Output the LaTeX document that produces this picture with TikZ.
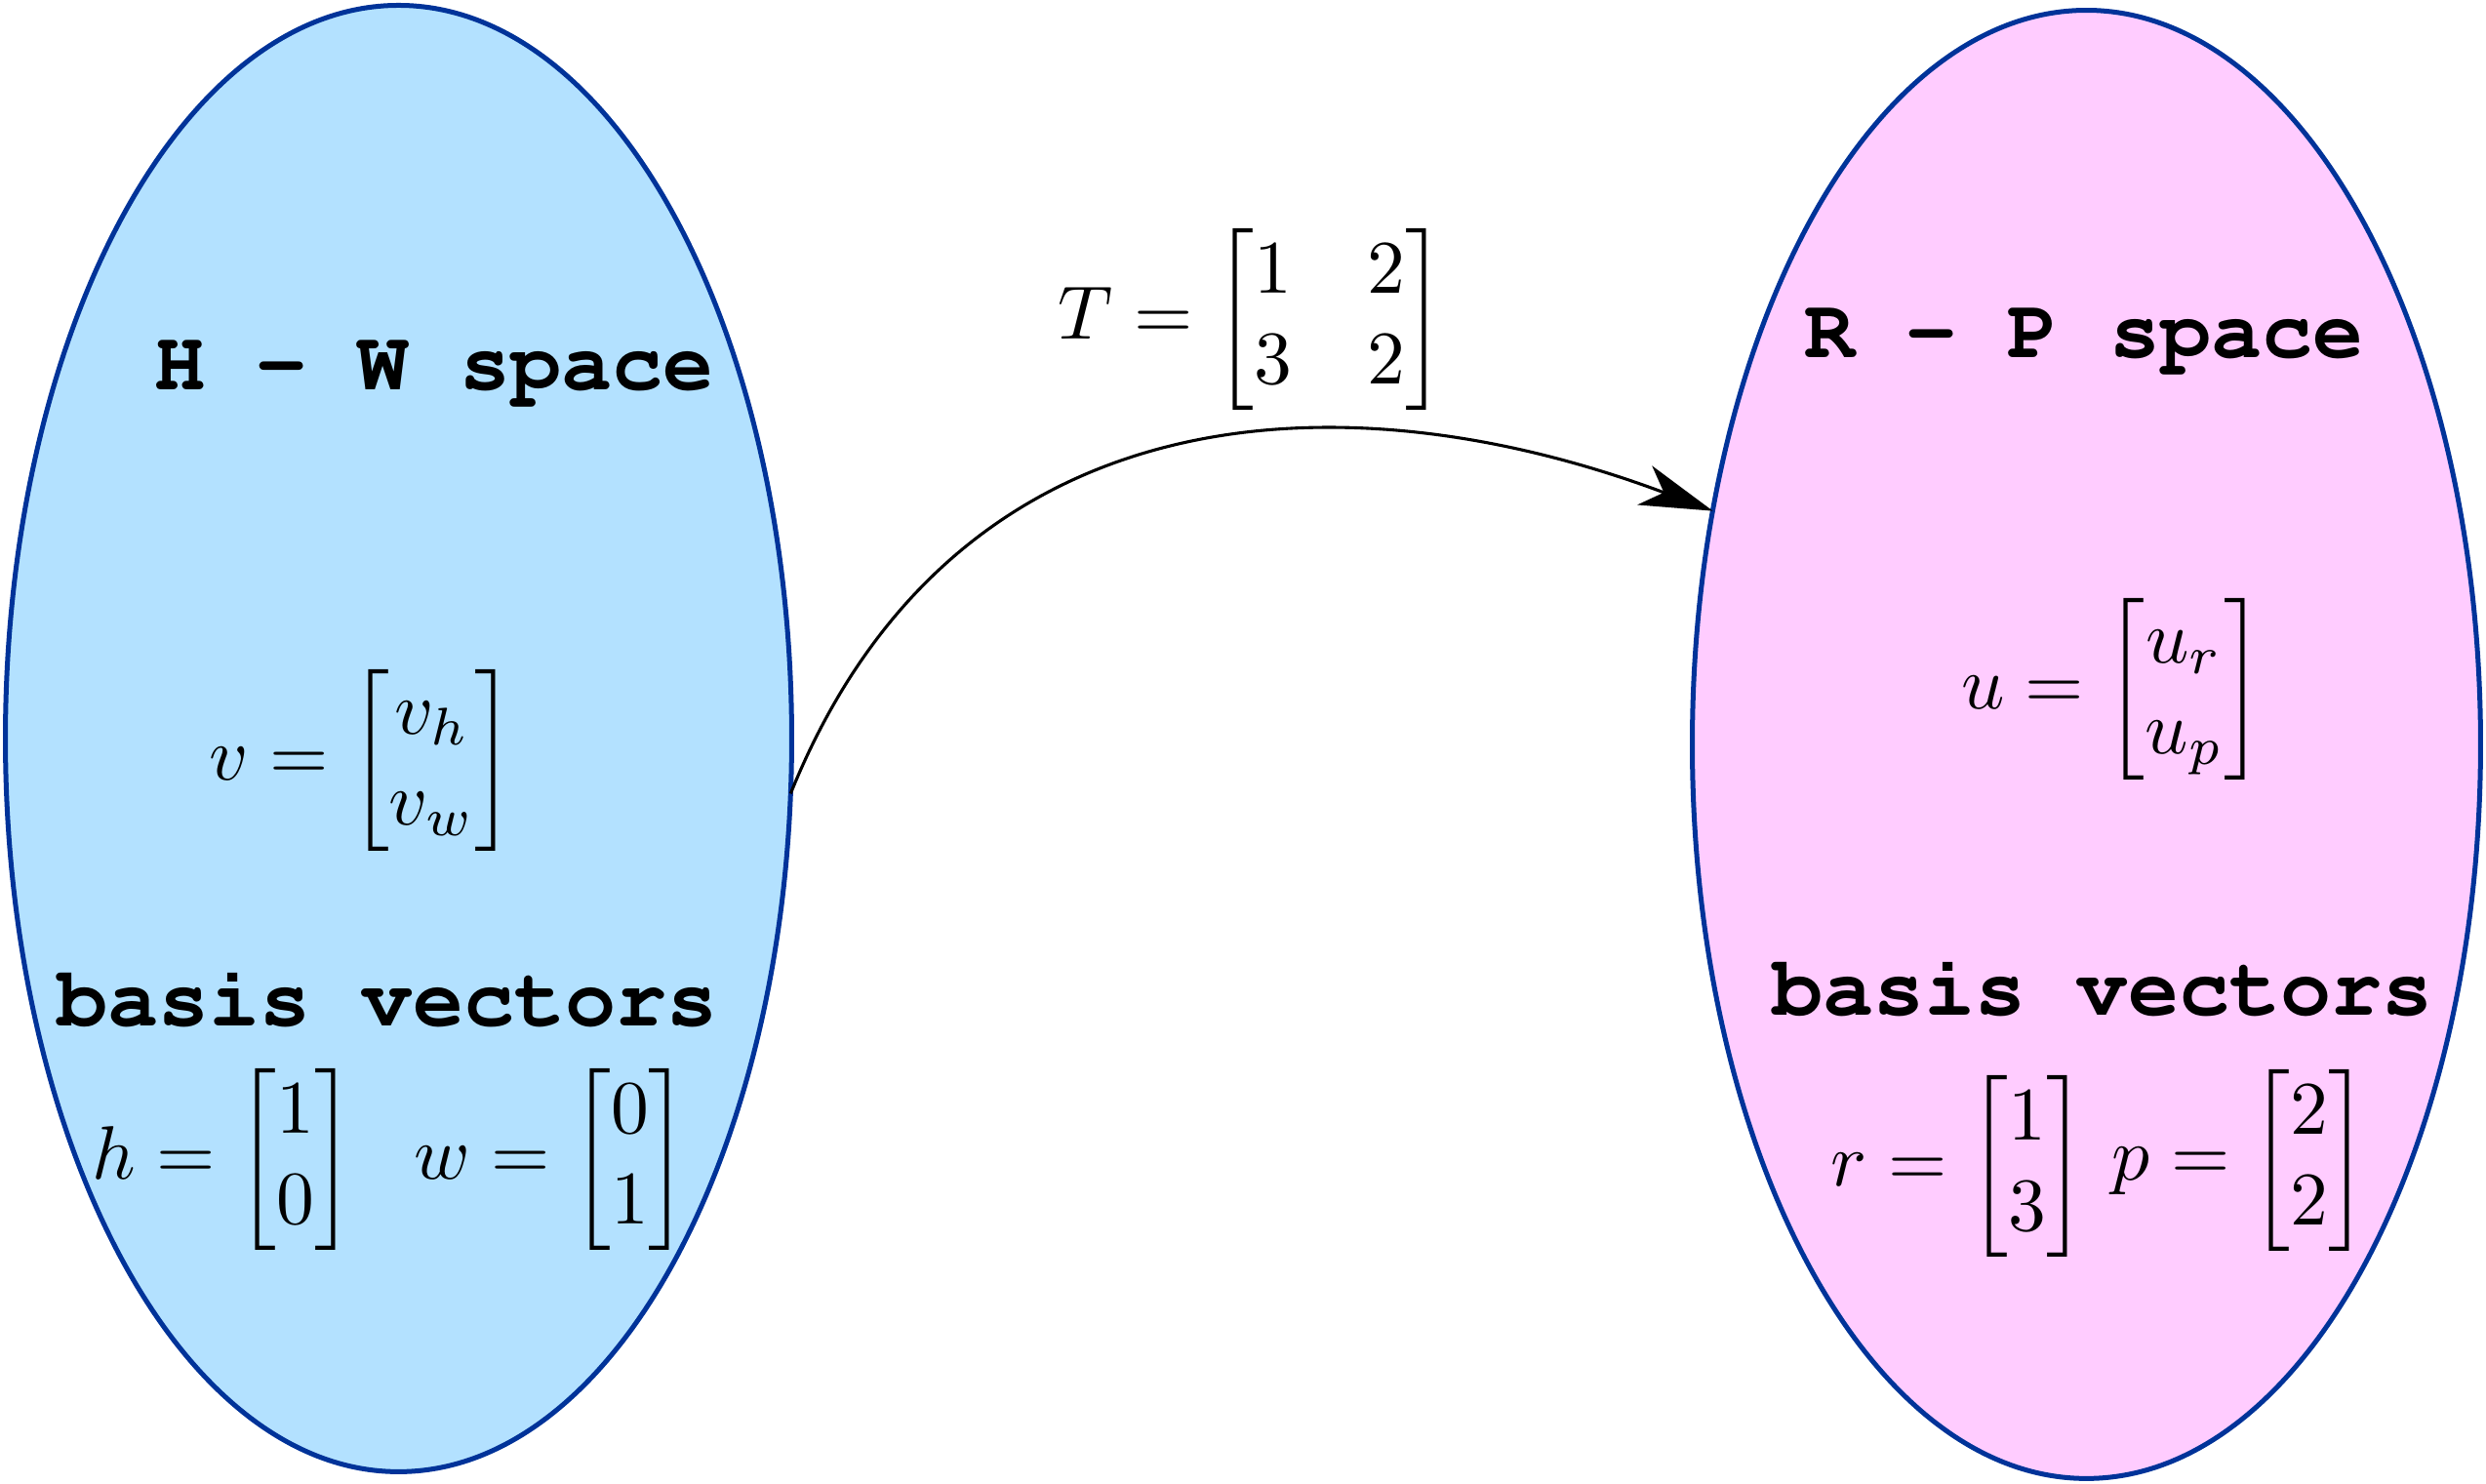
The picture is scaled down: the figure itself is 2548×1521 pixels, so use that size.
\documentclass[tikz,border=0pt]{standalone}
\usepackage{amsmath}
\usepackage{fontspec}
\usetikzlibrary{shapes.geometric,arrows.meta}
\definecolor{hwfill}{RGB}{179,225,255}
\definecolor{rpfill}{RGB}{255,204,255}
\definecolor{rim}{RGB}{0,51,153}
\newcommand{\courierbold}{\fontencoding{T1}\fontfamily{pcr}\fontseries{b}\fontshape{n}\selectfont}
\tikzset{
  space/.style={ellipse, draw=rim, line width=0.645pt, inner sep=0pt, outer sep=0pt},
  title/.style={inner sep=0pt, anchor=base, font=\fontsize{11.2}{13}\courierbold},
  formula/.style={inner sep=0pt, font=\fontsize{10}{12}\selectfont},
  mapto/.style={line width=0.4pt, -{Stealth[length=9.6pt, width=5.5pt, inset=2.7pt]}}
}
\begin{document}
\begin{tikzpicture}[x=0.1289pt, y=0.1289pt]
\useasboundingbox (0,0) rectangle (2548,1521);
\node[space, fill=hwfill, minimum width=103.89pt, minimum height=193.74pt] (L) at (408.5,764) {};
\node[space, fill=rpfill, minimum width=104.15pt, minimum height=193.99pt] (R) at (2138.5,758) {};
\node[title] (hwtitle) at (445,1121) {H - W space};
\node[formula] (veq) at (371,741) {$v = \begin{bmatrix} v_h \\ v_w \end{bmatrix}$};
\node[title] (basisL) at (397,469) {basis vectors};
\node[formula] (hweq) at (400,332) {$h = \begin{bmatrix} 1 \\ 0 \end{bmatrix} \hskip 6.2pt w = \begin{bmatrix} 0 \\ 1 \end{bmatrix}$};
\node[formula] (Teq) at (1283,1193) {$T = \begin{bmatrix} 1 & 2 \\ 3 & 2 \end{bmatrix}$};
\node[title] (rptitle) at (2136,1154) {R - P space};
\node[formula] (ueq) at (2165,814) {$u = \begin{bmatrix} u_r \\ u_p \end{bmatrix}$};
\node[title] (basisR) at (2155,480) {basis vectors};
\node[formula] (req) at (2007.5,325) {$r = \begin{bmatrix} 1 \\ 3 \end{bmatrix}$};
\node[formula] (peq) at (2296,331) {$p = \begin{bmatrix} 2 \\ 2 \end{bmatrix}$};
\draw[mapto] (L.-8.4) to[out=68, in=159.4, out distance=58pt, in distance=51.6pt] (R.148.8);
\end{tikzpicture}
\end{document}
